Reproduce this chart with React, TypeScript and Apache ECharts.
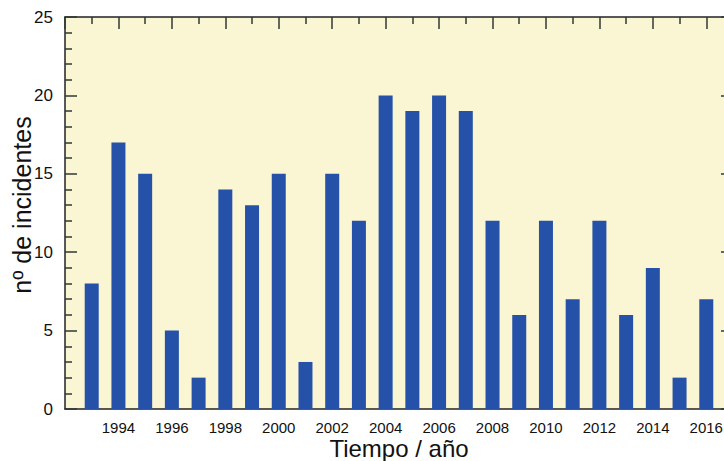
import React, { useEffect, useRef } from "react";
import * as echarts from "echarts";

const years: number[] = [1993, 1994, 1995, 1996, 1997, 1998, 1999, 2000, 2001, 2002, 2003, 2004, 2005, 2006, 2007, 2008, 2009, 2010, 2011, 2012, 2013, 2014, 2015, 2016];
const incidents: number[] = [8, 17, 15, 5, 2, 14, 13, 15, 3, 15, 12, 20, 19, 20, 19, 12, 6, 12, 7, 12, 6, 9, 2, 7];
const xTitle = "Tiempo / año";
const yTitle = "nº de incidentes";

const FONT = "'Liberation Sans', Arial, Helvetica, sans-serif";
const AXIS_COLOR = "#222";
const TICK_COLOR = "#2f3a34";

export default function App() {
  const ref = useRef<HTMLDivElement>(null);
  useEffect(() => {
    if (!ref.current) return;
    const chart = echarts.init(ref.current, undefined, { renderer: "svg" });
    const yBase = {
      type: "value" as const,
      min: 0,
      max: 25,
      interval: 5,
      axisLine: { show: true, onZero: false, lineStyle: { color: AXIS_COLOR, width: 1.5 } },
      axisTick: { show: true, inside: true, length: 12, lineStyle: { color: TICK_COLOR, width: 1.5 } },
      minorTick: { show: true, splitNumber: 5, length: 7, lineStyle: { color: TICK_COLOR, width: 1.5 } },
      splitLine: { show: false },
      minorSplitLine: { show: false },
    };
    chart.setOption({
      animation: false,
      backgroundColor: "#ffffff",
      grid: {
        left: 65,
        top: 17,
        right: -9,
        bottom: 52,
        containLabel: false,
        outerBoundsMode: "none",
        show: true,
        backgroundColor: "#FAF5D3",
        borderWidth: 0,
      },
      xAxis: [
        {
          type: "value",
          min: 1992,
          max: 2017,
          interval: 2,
          position: "bottom",
          axisLine: { show: true, onZero: false, lineStyle: { color: AXIS_COLOR, width: 1.5 } },
          axisTick: { show: false },
          minorTick: { show: false },
          splitLine: { show: false },
          minorSplitLine: { show: false },
          name: xTitle,
          nameLocation: "middle",
          nameGap: 27,
          nameMoveOverlap: false,
          nameTextStyle: { fontFamily: FONT, fontSize: 24, color: "#111" },
          axisLabel: {
            show: true,
            margin: 11,
            fontFamily: FONT,
            fontSize: 15,
            color: "#111",
            showMinLabel: false,
            showMaxLabel: false,
            formatter: (v: number) => (v >= 1994 && v <= 2016 && v % 2 === 0 ? String(v) : ""),
          },
        },
        {
          type: "value",
          min: 1992,
          max: 2017,
          interval: 2,
          position: "top",
          axisLine: { show: true, onZero: false, lineStyle: { color: AXIS_COLOR, width: 1.5 } },
          axisTick: { show: true, inside: true, length: 12, lineStyle: { color: TICK_COLOR, width: 1.5 } },
          minorTick: { show: true, splitNumber: 2, length: 7, lineStyle: { color: TICK_COLOR, width: 1.5 } },
          splitLine: { show: false },
          minorSplitLine: { show: false },
          axisLabel: { show: false },
        },
      ],
      yAxis: [
        {
          ...yBase,
          position: "left",
          name: yTitle,
          nameLocation: "middle",
          nameGap: 31,
          nameMoveOverlap: false,
          nameTextStyle: { fontFamily: FONT, fontSize: 25, color: "#111", padding: [0, 0, 0, 16] },
          axisLabel: { show: true, margin: 12, fontFamily: FONT, fontSize: 17, color: "#111" },
        },
        {
          ...yBase,
          position: "right",
          axisLabel: { show: false },
        },
      ],
      series: [
        {
          type: "bar",
          xAxisIndex: 0,
          yAxisIndex: 0,
          barWidth: 14,
          itemStyle: { color: "#2552A8" },
          data: years.map((y, i) => [y, incidents[i]]),
        },
      ],
    });
    return () => chart.dispose();
  }, []);
  return (
    <div
      ref={ref}
      style={{ position: "absolute", left: 0, top: 0, width: 724, height: 461 }}
    />
  );
}
